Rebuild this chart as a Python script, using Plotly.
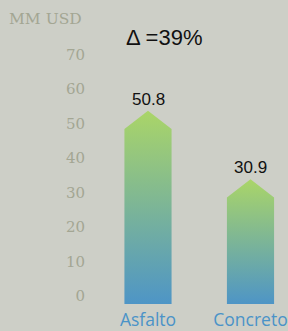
import plotly.graph_objects as go

categories = ["Asfalto", "Concreto"]
values = [50.8, 30.9]
value_labels = ["50.8", "30.9"]
y_ticks = [0, 10, 20, 30, 40, 50, 60, 70]
y_tick_labels = [str(v) for v in y_ticks]
delta_text = "Δ =39%"
unit_text = "MM USD"

BG = "#CDCFC7"
TICK = "#A3A693"
BLUE_TXT = "#4A93C8"
GRAD = [[0, "#4E95C6"], [1, "#AAD568"]]

W, H = 288, 331
ML, MR, MT, MB = 90, 0, 20, 27
PX_PER_UNIT = 3.446
PX_PER_CAT = 102.5
CENTER0 = 148

plot_h = H - MT - MB
plot_w = W - ML - MR
y_max = plot_h / PX_PER_UNIT
x_min = (ML - CENTER0) / PX_PER_CAT
x_max = (W - MR - CENTER0) / PX_PER_CAT

half_w = 0.23   # bar half width in category units
head = 5.3      # arrow head height in value units

fig = go.Figure()
for i, (cat, v) in enumerate(zip(categories, values)):
    xs = [i - half_w, i - half_w, i, i + half_w, i + half_w, i - half_w]
    ys = [0, v, v + head, v, 0, 0]
    fig.add_trace(go.Scatter(
        x=xs, y=ys, mode="lines", fill="toself",
        line=dict(width=0),
        fillgradient=dict(type="vertical", colorscale=GRAD, start=0, stop=v + head),
        hoverinfo="skip", showlegend=False,
    ))
    fig.add_annotation(x=i, y=v + head, text=value_labels[i], showarrow=False,
                       yanchor="bottom", yshift=0,
                       font=dict(family="Liberation Sans, Arial", size=17, color="#111111"))

fig.add_annotation(xref="paper", yref="paper",
                   x=(124 - ML) / plot_w, y=(H - MB - 37.5) / plot_h,
                   xanchor="left", yanchor="middle", text=delta_text, showarrow=False,
                   font=dict(family="Liberation Sans, Arial", size=22, color="#111111"))
fig.add_annotation(xref="paper", yref="paper",
                   x=(84 - ML) / plot_w, y=(H - MB - 19) / plot_h,
                   xanchor="right", yanchor="middle", text=unit_text, showarrow=False,
                   font=dict(family="DejaVu Serif", size=15.5, color=TICK))

fig.update_layout(
    width=W, height=H,
    margin=dict(l=ML, r=MR, t=MT, b=MB, pad=0, autoexpand=False),
    paper_bgcolor=BG, plot_bgcolor=BG,
    xaxis=dict(range=[x_min, x_max], tickvals=list(range(len(categories))),
               ticktext=categories, showgrid=False, zeroline=False, showline=False,
               ticks="", fixedrange=True, ticklabelstandoff=3, automargin=False,
               tickfont=dict(family="Open Sans", size=17.5, color=BLUE_TXT)),
    yaxis=dict(range=[0, y_max], tickvals=y_ticks, ticktext=y_tick_labels,
               showgrid=False, zeroline=False, showline=False, ticks="",
               ticklabelshift=-8, ticklabelstandoff=4, fixedrange=True, automargin=False,
               tickfont=dict(family="DejaVu Serif", size=15, color=TICK)),
    showlegend=False,
)

fig.write_html("out.html", config={"displayModeBar": False},
               post_script="document.body.style.margin='0';")
